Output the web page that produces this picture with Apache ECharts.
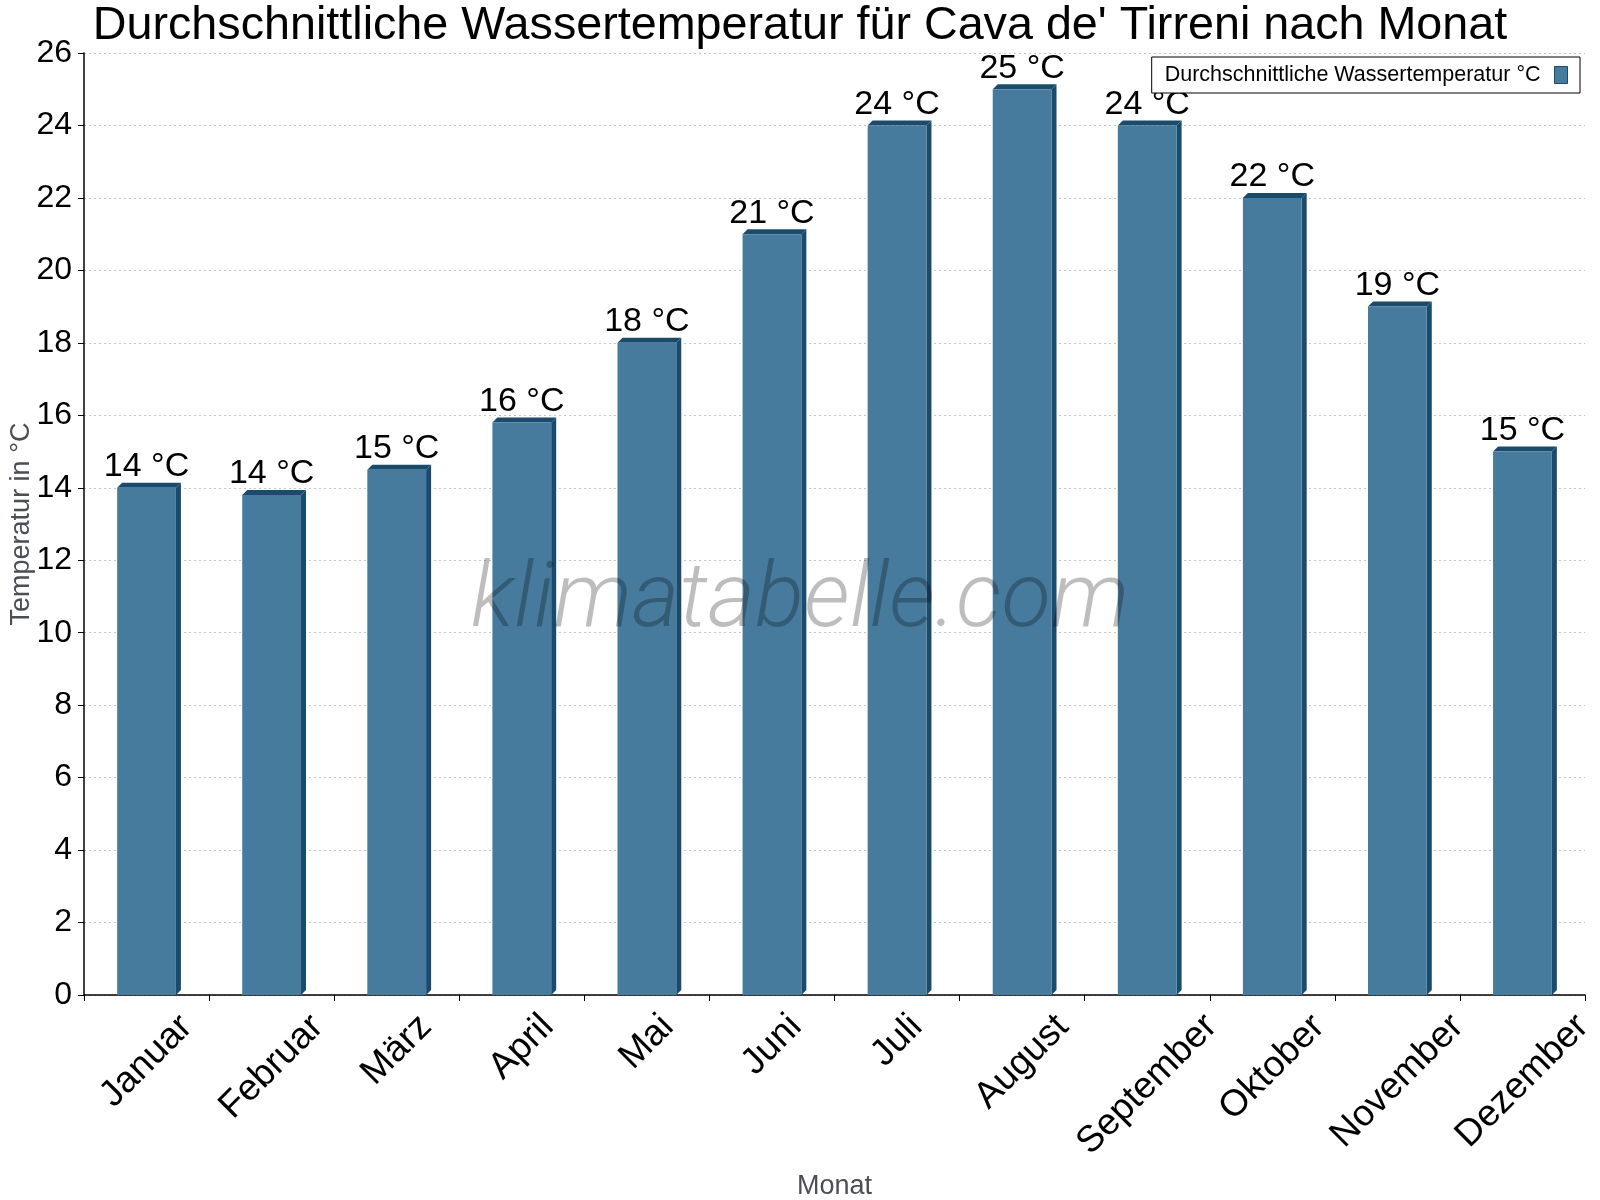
<!DOCTYPE html>
<html>
<head>
<meta charset="utf-8">
<script src="https://cdn.jsdelivr.net/npm/echarts@6/dist/echarts.min.js"></script>
<style>
html,body{margin:0;padding:0;background:#fff;}
#main{width:1600px;height:1200px;}
</style>
</head>
<body>
<div id="main"></div>
<script>
const chartTitle = "Durchschnittliche Wassertemperatur für Cava de' Tirreni nach Monat";
const seriesName = "Durchschnittliche Wassertemperatur °C";
const months = ["Januar","Februar","März","April","Mai","Juni","Juli","August","September","Oktober","November","Dezember"];
const waterTemp = [14, 13.8, 14.5, 15.8, 18, 21, 24, 25, 24, 22, 19, 15];
const yTicks = {min: 0, max: 26, interval: 2};
const yAxisName = "Temperatur in °C";
const xAxisName = "Monat";
const watermark = "klimatabelle.com";

const FONT = '"Liberation Sans", Arial, sans-serif';
const FRONT = '#477b9d';
const DARK = '#1a4b6d';
const DEPTH = 5;
const XLBL = 37;

// per-label padding so rotated labels hang centered below each category
const mctx = document.createElement('canvas').getContext('2d');
mctx.font = XLBL + 'px "Liberation Sans"';
const rich = {};
months.forEach((m, i) => {
  const L = mctx.measureText(m).width;
  const p = Math.round(L * 0.5);
  rich['m' + i] = {fontSize: XLBL, fontFamily: FONT, color: '#000', padding: [p, p, 0, 0]};
});

const chart = echarts.init(document.getElementById('main'), null, {renderer: 'canvas'});
chart.setOption({
  backgroundColor: '#fff',
  animation: false,
  title: {
    text: chartTitle,
    left: 'center',
    top: -2,
    textStyle: {fontFamily: FONT, fontSize: 46.7, fontWeight: 'normal', color: '#000'}
  },
  legend: {
    data: [{name: seriesName, icon: 'rect'}],
    right: 20,
    top: 57,
    align: 'right',
    itemWidth: 13,
    itemHeight: 17,
    padding: [7, 12, 7, 13],
    borderColor: '#000',
    borderWidth: 1,
    backgroundColor: '#fff',
    itemStyle: {borderColor: DARK, borderWidth: 1},
    textStyle: {fontFamily: FONT, fontSize: 21.5, color: '#000', padding: [0, 9, 0, 0]}
  },
  grid: {left: 84, right: 15, top: 53, bottom: 205, containLabel: false, outerBoundsMode: 'none'},
  xAxis: {
    type: 'category',
    data: months,
    boundaryGap: true,
    name: xAxisName,
    nameLocation: 'middle',
    nameGap: 178,
    nameMoveOverlap: false,
    nameTextStyle: {fontFamily: FONT, fontSize: 27, color: '#4a4f55'},
    axisLine: {lineStyle: {color: '#000', width: 1.5}},
    axisTick: {show: true, alignWithLabel: false, length: 6, lineStyle: {color: '#000'}},
    axisLabel: {
      interval: 0,
      rotate: 45,
      align: 'center',
      verticalAlign: 'middle',
      margin: 26,
      hideOverlap: false,
      fontFamily: FONT,
      fontSize: XLBL,
      color: '#000',
      formatter: (v, i) => '{m' + i + '|' + v + '}',
      rich: rich
    },
    splitLine: {show: false}
  },
  yAxis: {
    type: 'value',
    min: yTicks.min,
    max: yTicks.max,
    interval: yTicks.interval,
    name: yAxisName,
    nameLocation: 'middle',
    nameGap: 49,
    nameMoveOverlap: false,
    nameTextStyle: {fontFamily: FONT, fontSize: 27, color: '#4a4f55'},
    axisLine: {show: true, lineStyle: {color: '#000', width: 1.5}},
    axisTick: {show: true, length: 6, lineStyle: {color: '#000'}},
    axisLabel: {fontFamily: FONT, fontSize: 32, color: '#000', margin: 12},
    splitLine: {show: true, lineStyle: {color: '#c4c4c4', type: [2, 3], width: 1}}
  },
  series: [
    {
      name: seriesName,
      type: 'bar',
      data: waterTemp,
      barWidth: '47%',
      itemStyle: {color: FRONT},
      z: 3,
      label: {
        show: true,
        position: 'top',
        distance: 4,
        fontFamily: FONT,
        fontSize: 34,
        color: '#000',
        formatter: p => Math.round(p.value) + ' °C'
      }
    },
    {
      name: '3d',
      type: 'custom',
      data: waterTemp.map((v, i) => [i, v]),
      z: 2,
      silent: true,
      renderItem: function (params, api) {
        const i = api.value(0), v = api.value(1);
        const top = api.coord([i, v]);
        const base = api.coord([i, 0]);
        const bw = api.size([1, 0])[0] * 0.47;
        const x0 = top[0] - bw / 2, x1 = top[0] + bw / 2;
        const yt = top[1], yb = base[1];
        const d = DEPTH;
        return {
          type: 'group',
          children: [
            {type: 'polygon', shape: {points: [[x1, yt], [x1 + d, yt - d], [x1 + d, yb - d], [x1, yb]]}, style: {fill: DARK}},
            {type: 'polygon', shape: {points: [[x0, yt], [x0 + d, yt - d], [x1 + d, yt - d], [x1, yt]]}, style: {fill: DARK}}
          ]
        };
      }
    }
  ],
  graphic: [{
    type: 'text',
    x: 800,
    y: 603,
    z: 100,
    silent: true,
    style: {
      text: watermark,
      fontFamily: 'Roboto, sans-serif',
      fontSize: 91,
      fontWeight: 300,
      fontStyle: 'italic',
      fill: 'rgba(0,0,0,0.26)',
      textAlign: 'center',
      textVerticalAlign: 'middle'
    }
  }]
});
</script>
</body>
</html>
